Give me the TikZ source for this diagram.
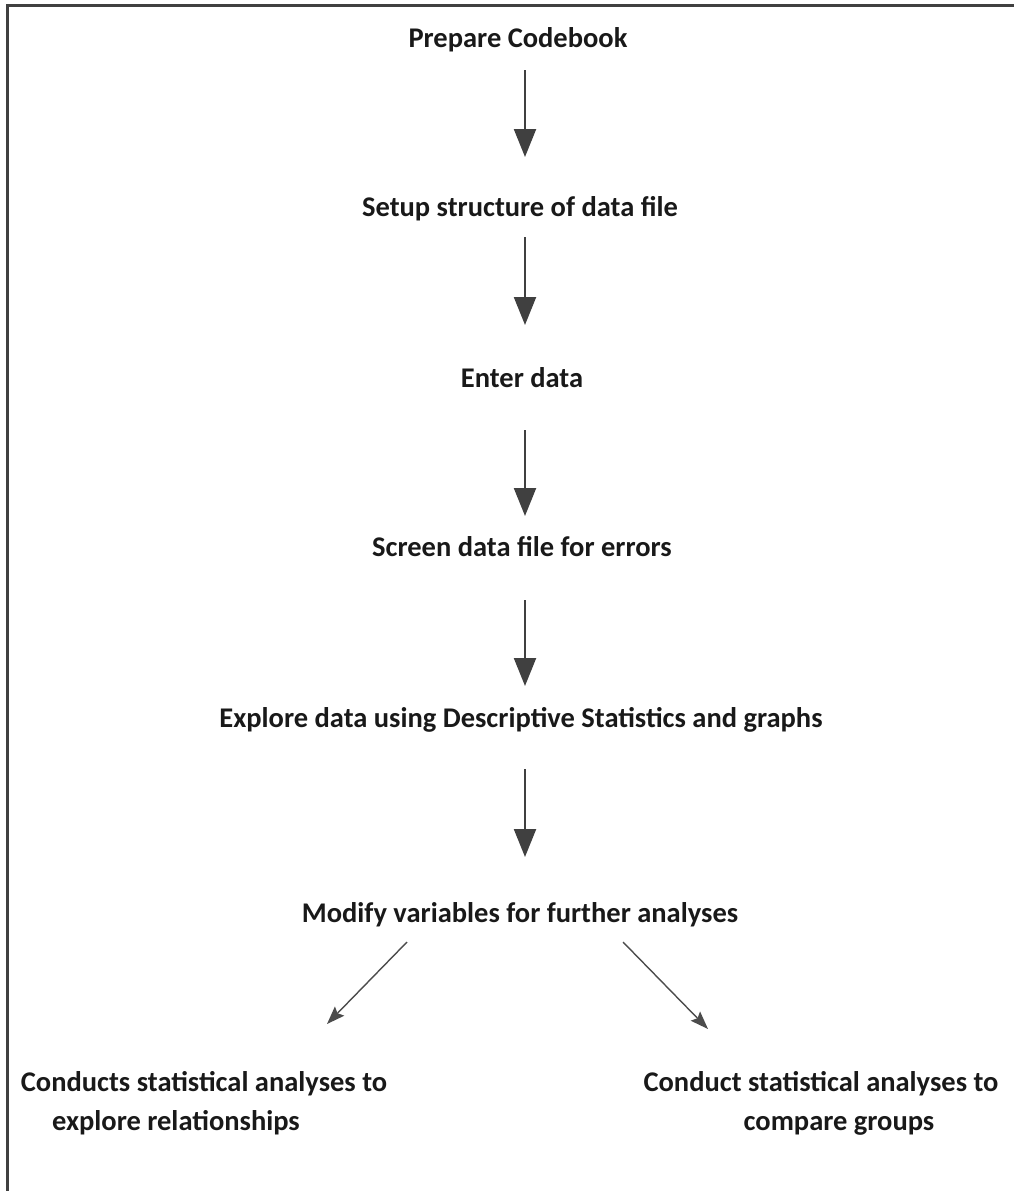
\documentclass[tikz,border=0pt]{standalone}
\usepackage{fontspec}
\setmainfont{Carlito}
\usetikzlibrary{arrows.meta}
\begin{document}
\begin{tikzpicture}[x=1pt,y=-1pt,
  label/.style={font=\bfseries\fontsize{28.5}{39}\selectfont, text=black!90, inner sep=0pt, align=center},
  flow/.style={draw=black!75, line width=2.2pt, -{Triangle[length=28pt,width=22pt]}},
  branch/.style={draw=black!70, line width=1.4pt, -{Stealth[length=18pt,width=13pt,inset=3pt]}}]
\useasboundingbox (0,0) rectangle (1013,1191);
% frame: only the left and top edges fall inside the page
\draw[black!75, line width=3pt] (7.5,1195) -- (7.5,5.5) -- (1020,5.5);

\node[label] (codebook) at (518,40) {Prepare Codebook};
\node[label] (setup) at (520,209) {Setup structure of data file};
\node[label] (enter) at (522,378) {Enter data};
\node[label] (screen) at (522,547) {Screen data file for errors};
\node[label] (explore) at (521,720) {Explore data using Descriptive Statistics and graphs};
\node[label] (modify) at (520,915) {Modify variables for further analyses};
\node[label] (relate) at (204,1103) {Conducts statistical analyses to\\explore relationships\hspace*{56pt}};
\node[label] (compare) at (821,1103) {Conduct statistical analyses to\\\hspace*{36pt}compare groups};

\coordinate (a1s) at (525,70);  \coordinate (a1e) at (525,157);
\coordinate (a2s) at (525,237); \coordinate (a2e) at (525,325);
\coordinate (a3s) at (525,430); \coordinate (a3e) at (525,516);
\coordinate (a4s) at (525,600); \coordinate (a4e) at (525,686);
\coordinate (a5s) at (525,769); \coordinate (a5e) at (525,857);
\draw[flow] (a1s) -- (a1e);
\draw[flow] (a2s) -- (a2e);
\draw[flow] (a3s) -- (a3e);
\draw[flow] (a4s) -- (a4e);
\draw[flow] (a5s) -- (a5e);

\coordinate (bl) at (407,942); \coordinate (blend) at (327,1024);
\coordinate (br) at (623,942); \coordinate (brend) at (708,1029);
\draw[branch] (bl) -- (blend);
\draw[branch] (br) -- (brend);
\end{tikzpicture}
\end{document}
